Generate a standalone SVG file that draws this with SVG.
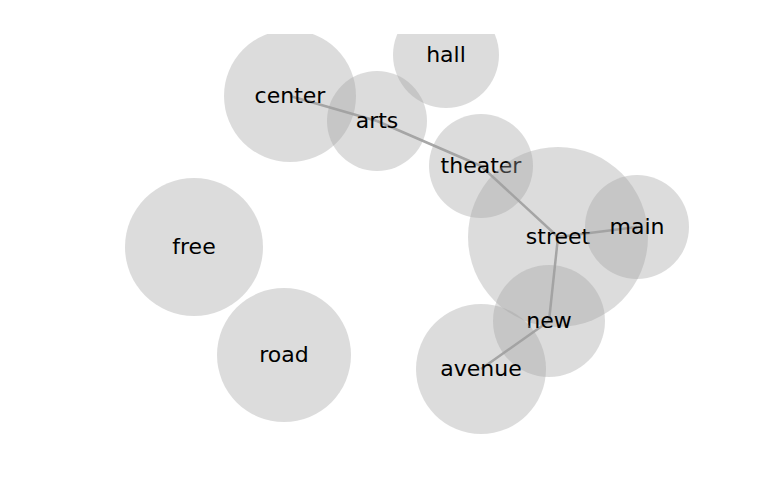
<svg xmlns="http://www.w3.org/2000/svg" width="768" height="500" viewBox="0 0 768 500">
<style>
.n{fill:#a1a1a1;fill-opacity:0.37}
.t{font-family:"DejaVu Sans",sans-serif;font-size:22px;fill:#000;text-anchor:middle}
.e{stroke:#a8a8a8;stroke-width:2.5;fill:none}
</style>
<defs><clipPath id="ax"><rect x="0" y="34" width="768" height="466"/></clipPath></defs>
<rect width="768" height="500" fill="#fff"/>
<g id="edges" clip-path="url(#ax)">
<line class="e" x1="290" y1="96" x2="377" y2="121"/>
<line class="e" x1="377" y1="121" x2="481" y2="166"/>
<line class="e" x1="481" y1="166" x2="558" y2="237"/>
<line class="e" x1="558" y1="237" x2="637" y2="227"/>
<line class="e" x1="558" y1="237" x2="549" y2="321"/>
<line class="e" x1="549" y1="321" x2="481" y2="369"/>
</g>
<g clip-path="url(#ax)">
<g id="hall"><circle class="n" cx="446" cy="55" r="53"/><text class="t" x="446" y="62">hall</text></g>
<g id="center"><circle class="n" cx="290" cy="96" r="66"/><text class="t" x="290" y="103">center</text></g>
<g id="arts"><circle class="n" cx="377" cy="121" r="50"/><text class="t" x="377" y="128">arts</text></g>
<g id="theater"><circle class="n" cx="481" cy="166" r="52"/><text class="t" x="481" y="173">theater</text></g>
<g id="street"><circle class="n" cx="558" cy="237" r="90"/><text class="t" x="558" y="244">street</text></g>
<g id="main"><circle class="n" cx="637" cy="227" r="52"/><text class="t" x="637" y="234">main</text></g>
<g id="free"><circle class="n" cx="194" cy="247" r="69"/><text class="t" x="194" y="254">free</text></g>
<g id="road"><circle class="n" cx="284" cy="355" r="67"/><text class="t" x="284" y="362">road</text></g>
<g id="new"><circle class="n" cx="549" cy="321" r="56"/><text class="t" x="549" y="328">new</text></g>
<g id="avenue"><circle class="n" cx="481" cy="369" r="65"/><text class="t" x="481" y="376">avenue</text></g>
</g>
</svg>
